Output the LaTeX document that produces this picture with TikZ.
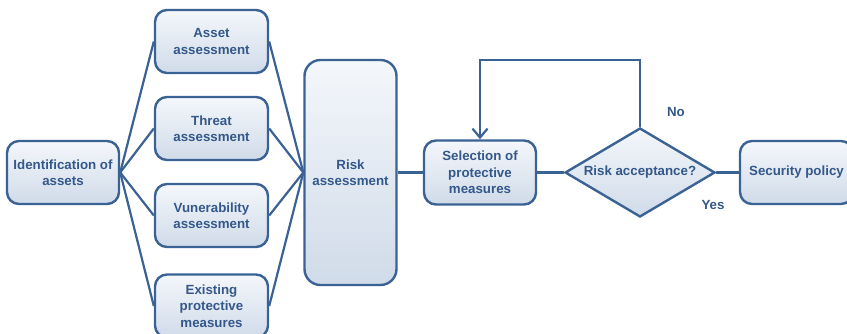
\documentclass[tikz,border=0pt]{standalone}
\usepackage{fontspec}
\setmainfont{Liberation Sans}
\usetikzlibrary{shapes.geometric,arrows.meta}
\definecolor{edgeblue}{RGB}{58,98,148}
\definecolor{txtblue}{RGB}{52,88,138}
\definecolor{filltop}{RGB}{244,247,251}
\definecolor{fillbot}{RGB}{208,219,233}
\tikzset{
  box/.style={draw=edgeblue, line width=2.4pt, rounded corners=12pt,
    top color=filltop, bottom color=fillbot, shading angle=0,
    minimum width=113pt, minimum height=63pt, inner sep=0pt,
    align=center, text=txtblue, font=\fontsize{13.3pt}{16.5pt}\selectfont\bfseries},
  conn/.style={draw=edgeblue, line width=2.2pt},
  lbl/.style={text=txtblue, font=\fontsize{13.3pt}{16pt}\selectfont\bfseries}
}
\begin{document}
\begin{tikzpicture}[x=1pt,y=-1pt]
\useasboundingbox (0,0) rectangle (847,334);
\begin{scope}
\clip (0,0) rectangle (847,334);
\node[box, minimum width=112pt] (ident) at (63,172.5) {Identification of\\assets};
\node[box] (asset) at (211.5,41.5) {Asset\\assessment};
\node[box] (threat) at (211.5,128.5) {Threat\\assessment};
\node[box] (vuln) at (211.5,215.5) {Vunerability\\assessment};
\node[box] (exist) at (211.5,306) {Existing\\protective\\measures};
\node[box, minimum width=92pt, minimum height=225pt, rounded corners=16pt] (risk) at (350.5,172.5) {Risk\\assessment};
\node[box, minimum width=112pt, minimum height=64pt] (sel) at (480,172.5) {Selection of\\protective\\measures};
\node[diamond, draw=edgeblue, line width=2.4pt, top color=filltop, bottom color=fillbot,
  minimum width=150pt, minimum height=89pt, inner sep=0pt] (dec) at (640,172.5) {};
\node[lbl] (dectext) at (dec.center) {Risk acceptance?};
\node[box] (sec) at (796.5,172.5) {Security policy};

\foreach \b in {asset,threat,vuln,exist}{
  \draw[conn] (ident.east) -- (\b.west);
  \draw[conn] (\b.east) -- (risk.west);
}
\draw[conn] (risk.east) -- (sel.west);
\draw[conn] (sel.east) -- (dec.west);
\draw[conn] (dec.east) -- (sec.west);
\coordinate (loopR) at (640,60);
\coordinate (loopL) at (480,60);
\draw[conn, -{Straight Barb[length=9pt,width=15pt,line width=2.2pt]}] (dec.north) -- (loopR) -- (loopL) -- (sel.north);
\node[lbl] (no) at (676,112) {No};
\node[lbl] (yes) at (713,205) {Yes};
\end{scope}
\end{tikzpicture}
\end{document}
